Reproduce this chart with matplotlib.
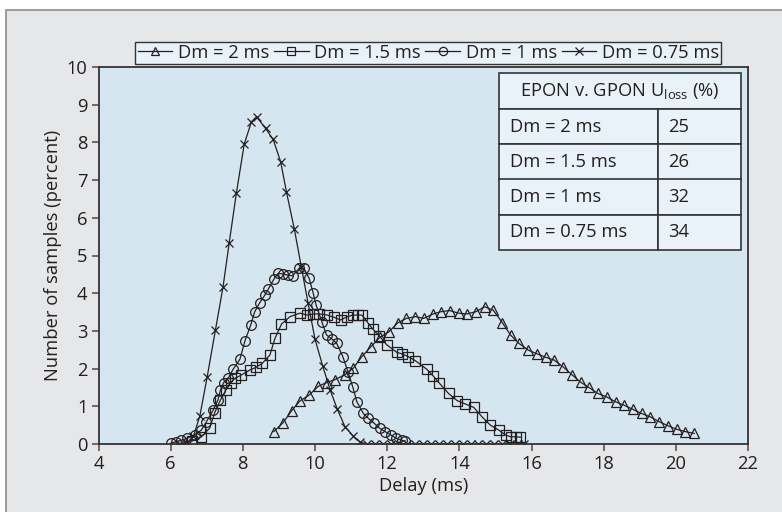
import matplotlib
matplotlib.use("Agg")
import matplotlib.pyplot as plt
from matplotlib.patches import Rectangle

plt.rcParams['font.family'] = ['Open Sans', 'DejaVu Sans']
plt.rcParams['mathtext.fontset'] = 'custom'
plt.rcParams['mathtext.rm'] = 'Open Sans'
plt.rcParams['mathtext.it'] = 'Open Sans'

# ---------------- data ----------------
series_labels = ["Dm = 2 ms", "Dm = 1.5 ms", "Dm = 1 ms", "Dm = 0.75 ms"]

x_2 = [8.86, 9.12, 9.35, 9.58, 9.84, 10.09, 10.32, 10.56, 10.83, 11.06, 11.30, 11.54,
       11.80, 12.04, 12.29, 12.53, 12.78, 13.01, 13.27, 13.49, 13.73, 13.98, 14.21, 14.46,
       14.70, 14.94, 15.19, 15.42, 15.65, 15.91, 16.16, 16.39, 16.62, 16.87, 17.13, 17.36,
       17.59, 17.84, 18.08, 18.33, 18.56, 18.81, 19.05, 19.29, 19.54, 19.77, 20.02, 20.26, 20.51]
y_2 = [0.33, 0.57, 0.88, 1.14, 1.30, 1.53, 1.63, 1.71, 1.84, 2.01, 2.32, 2.57,
       2.83, 2.97, 3.21, 3.33, 3.38, 3.33, 3.45, 3.51, 3.54, 3.47, 3.45, 3.51,
       3.64, 3.55, 3.22, 2.89, 2.67, 2.49, 2.39, 2.30, 2.23, 2.05, 1.83, 1.64,
       1.50, 1.34, 1.25, 1.12, 1.03, 0.92, 0.81, 0.72, 0.59, 0.49, 0.39, 0.33, 0.28]

x_15 = [6.60, 6.85, 7.08, 7.22, 7.38, 7.53, 7.66, 7.78, 7.96, 8.19, 8.36, 8.54, 8.75,
        8.89, 9.07, 9.31, 9.58, 9.79, 9.95, 10.12, 10.34, 10.53, 10.71, 10.90, 11.05,
        11.20, 11.30, 11.46, 11.60, 11.78, 11.99, 12.27, 12.41, 12.58, 12.78, 13.10,
        13.28, 13.45, 13.70, 13.94, 14.17, 14.40, 14.63, 14.86, 15.09, 15.28, 15.42,
        15.56, 15.69]
y_15 = [0.08, 0.19, 0.42, 0.83, 1.17, 1.43, 1.63, 1.74, 1.83, 1.96, 2.03, 2.14, 2.36,
        2.80, 3.18, 3.38, 3.47, 3.42, 3.45, 3.45, 3.42, 3.36, 3.29, 3.38, 3.42,
        3.42, 3.42, 3.22, 3.05, 2.87, 2.63, 2.43, 2.39, 2.32, 2.21, 1.98,
        1.80, 1.61, 1.34, 1.15, 1.06, 0.97, 0.72, 0.50, 0.37, 0.24, 0.19,
        0.19, 0.18]

x_1 = [6.00, 6.14, 6.30, 6.45, 6.67, 6.85, 6.99, 7.18, 7.31, 7.38, 7.47, 7.59, 7.73,
       7.92, 8.06, 8.22, 8.33, 8.47, 8.61, 8.70, 8.86, 8.98, 9.10, 9.24, 9.38, 9.56,
       9.69, 9.84, 9.95, 10.03, 10.19, 10.32, 10.48, 10.60, 10.77, 10.92, 11.05, 11.16,
       11.34, 11.48, 11.64, 11.79, 11.94, 12.10, 12.25, 12.40, 12.50]
y_1 = [0.02, 0.06, 0.10, 0.15, 0.24, 0.37, 0.59, 0.90, 1.17, 1.43, 1.63, 1.74, 1.98,
       2.25, 2.74, 3.16, 3.51, 3.75, 3.95, 4.10, 4.37, 4.53, 4.51, 4.48, 4.46, 4.66,
       4.66, 4.39, 4.00, 3.69, 3.24, 2.89, 2.78, 2.67, 2.32, 1.90, 1.50, 1.12,
       0.81, 0.68, 0.55, 0.42, 0.33, 0.24, 0.15, 0.10, 0.08]

x_075 = [6.25, 6.45, 6.63, 6.81, 7.01, 7.24, 7.45, 7.62, 7.82, 8.04, 8.24, 8.38, 8.63,
         8.84, 9.05, 9.21, 9.43, 9.62, 9.81, 10.00, 10.21, 10.42, 10.62, 10.83, 11.06,
         11.25, 11.45, 11.67, 11.89, 12.11, 12.33, 12.55, 12.77, 12.99, 13.21, 13.43,
         13.65, 13.87, 14.09, 14.31, 14.53, 14.75, 14.97, 15.19, 15.41, 15.63, 15.80]
y_075 = [0.01, 0.03, 0.20, 0.75, 1.77, 3.02, 4.16, 5.32, 6.65, 7.96, 8.55, 8.68, 8.37,
         8.08, 7.48, 6.68, 5.69, 4.70, 3.73, 2.78, 2.08, 1.43, 0.92, 0.46, 0.21,
         0.05, 0.0, 0.0, 0.0, 0.0, 0.0, 0.0, 0.0, 0.0, 0.0, 0.0,
         0.0, 0.0, 0.0, 0.0, 0.0, 0.0, 0.0, 0.0, 0.0, 0.0, 0.0]

table_header = "EPON v. GPON U$_{\\mathrm{loss}}$ (%)"
table_rows = ["Dm = 2 ms", "Dm = 1.5 ms", "Dm = 1 ms", "Dm = 0.75 ms"]
table_values = ["25", "26", "32", "34"]

x_ticks = [4, 6, 8, 10, 12, 14, 16, 18, 20, 22]
y_ticks = [0, 1, 2, 3, 4, 5, 6, 7, 8, 9, 10]

# ---------------- style ----------------
INK = "#231f20"
PANEL = "#e6e7e8"
PLOTBG = "#d6e6f1"
CELLBG = "#eaf2f9"
FS = 13.2

W, H = 782, 512
fig = plt.figure(figsize=(W / 100, H / 100), dpi=100)
fig.patch.set_facecolor("white")
fig.patches.append(Rectangle((5.5 / W, -0.05), 1.1, (H - 9.5) / H + 0.05,
                             transform=fig.transFigure, facecolor=PANEL,
                             edgecolor="#8c8c8c", linewidth=1.2, zorder=-10))

L, R, T, B = 98.5, 748, 67, 444
ax = fig.add_axes([L / W, (H - B) / H, (R - L) / W, (B - T) / H])
ax.set_zorder(1)
ax.set_facecolor(PLOTBG)

common = dict(color=INK, linewidth=0.9, markeredgewidth=0.9, fillstyle='none')
ax.plot(x_2, y_2, marker='^', markersize=6.5, label=series_labels[0], **common)
ax.plot(x_15, y_15, marker='s', markersize=6.5, label=series_labels[1], **common)
ax.plot(x_1, y_1, marker='o', markersize=7, label=series_labels[2], **common)
ax.plot(x_075, y_075, marker='x', markersize=6, label=series_labels[3], **common)

ax.set_xlim(4, 22)
ax.set_ylim(0, 10)
ax.set_xticks(x_ticks)
ax.set_yticks(y_ticks)
ax.tick_params(direction='out', length=5, width=1.2, color="#555555",
               labelsize=FS, labelcolor=INK, pad=3)
for s in ax.spines.values():
    s.set_color("#333333")
    s.set_linewidth(1.3)
ax.set_xlabel("Delay (ms)", fontsize=FS, color=INK, labelpad=3)
ax.set_ylabel("Number of samples (percent)", fontsize=FS, color=INK, labelpad=3)

leg = ax.legend(loc='lower center', bbox_to_anchor=(0.508, 1.008), ncol=4,
                fontsize=FS, frameon=True, fancybox=False, handlelength=1.9,
                handletextpad=0.3, columnspacing=0.25, borderpad=0.12,
                borderaxespad=0.0, markerscale=0.85)
leg.get_frame().set_facecolor(CELLBG)
leg.get_frame().set_edgecolor("#333333")
leg.get_frame().set_linewidth(1.0)
leg.get_frame().set_alpha(1)
for t in leg.get_texts():
    t.set_color(INK)

# table (axes coordinates)
tx0 = (499 - L) / (R - L)
tx1 = (741 - L) / (R - L)
tdiv = (658 - L) / (R - L)
ty_top = (B - 73) / (B - T)
ty_hdr = (B - 109) / (B - T)
ty_bot = (B - 250) / (B - T)

hdr = ax.table(cellText=[[table_header]], cellLoc='center',
               bbox=[tx0, ty_hdr, tx1 - tx0, ty_top - ty_hdr])
body = ax.table(cellText=[[r, v] for r, v in zip(table_rows, table_values)],
                cellLoc='left', colWidths=[tdiv - tx0, tx1 - tdiv],
                bbox=[tx0, ty_bot, tx1 - tx0, ty_hdr - ty_bot])
for tb in (hdr, body):
    tb.auto_set_font_size(False)
    tb.set_fontsize(FS)
    tb.set_zorder(5)
    for key, cell in tb.get_celld().items():
        cell.set_facecolor(CELLBG)
        cell.set_edgecolor("#333333")
        cell.set_linewidth(1.2)
        cell.get_text().set_color(INK)
        cell.PAD = 0.07 if key[1] == 0 else 0.12

fig.savefig("out.png", dpi=100)
